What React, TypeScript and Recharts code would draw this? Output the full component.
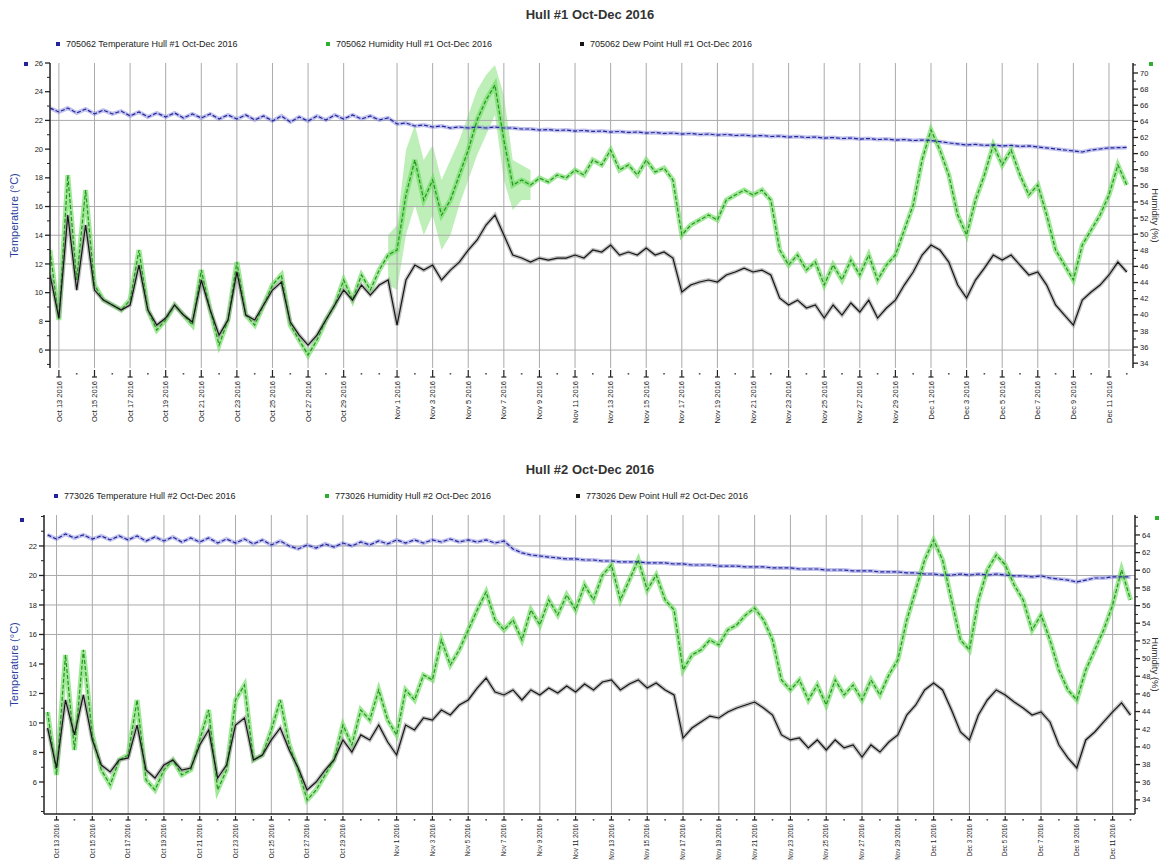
import React from 'react';
import { ComposedChart, Line, Area, XAxis, YAxis, ReferenceLine } from 'recharts';

// readings every 12 h, day 1 = Oct 1 2016 (12.5 = Oct 12 noon)
const firstDay = 12.5;
const stepDays = 0.5;

const tickDays = [13, 15, 17, 19, 21, 23, 25, 27, 29, 32, 34, 36, 38, 40, 42, 44, 46, 48, 50, 52, 54, 56, 58, 60, 62, 64, 66, 68, 70, 72];
const tickLabels = [
  'Oct 13 2016', 'Oct 15 2016', 'Oct 17 2016', 'Oct 19 2016', 'Oct 21 2016', 'Oct 23 2016', 'Oct 25 2016', 'Oct 27 2016', 'Oct 29 2016',
  'Nov 1 2016', 'Nov 3 2016', 'Nov 5 2016', 'Nov 7 2016', 'Nov 9 2016', 'Nov 11 2016', 'Nov 13 2016', 'Nov 15 2016', 'Nov 17 2016',
  'Nov 19 2016', 'Nov 21 2016', 'Nov 23 2016', 'Nov 25 2016', 'Nov 27 2016', 'Nov 29 2016',
  'Dec 1 2016', 'Dec 3 2016', 'Dec 5 2016', 'Dec 7 2016', 'Dec 9 2016', 'Dec 11 2016',
];

const hull1Series = ['705062 Temperature Hull #1 Oct-Dec 2016', '705062 Humidity Hull #1 Oct-Dec 2016', '705062 Dew Point Hull #1 Oct-Dec 2016'];
const hull2Series = ['773026 Temperature Hull #2 Oct-Dec 2016', '773026 Humidity Hull #2 Oct-Dec 2016', '773026 Dew Point Hull #2 Oct-Dec 2016'];

// Hull #1
const temp1 = [
  22.86, 22.59, 22.86, 22.52, 22.79, 22.45, 22.72, 22.45, 22.65, 22.31,
  22.59, 22.24, 22.52, 22.24, 22.52, 22.17, 22.45, 22.17, 22.45, 22.10,
  22.38, 22.10, 22.38, 22.03, 22.31, 21.96, 22.31, 21.89, 22.24, 21.96,
  22.31, 22.03, 22.38, 22.10, 22.38, 22.10, 22.31, 22.03, 22.17, 21.75,
  21.82, 21.61, 21.68, 21.54, 21.61, 21.47, 21.54, 21.47, 21.54, 21.47,
  21.54, 21.47, 21.47, 21.40, 21.40, 21.33, 21.36, 21.30, 21.33, 21.26,
  21.30, 21.23, 21.26, 21.19, 21.23, 21.16, 21.19, 21.12, 21.16, 21.09,
  21.12, 21.05, 21.09, 21.02, 21.05, 20.98, 21.02, 20.95, 20.98, 20.91,
  20.95, 20.88, 20.91, 20.84, 20.88, 20.81, 20.84, 20.77, 20.81, 20.74,
  20.77, 20.70, 20.74, 20.67, 20.70, 20.63, 20.67, 20.60, 20.63, 20.60,
  20.52, 20.43, 20.36, 20.29, 20.33, 20.26, 20.29, 20.22, 20.26, 20.19,
  20.22, 20.15, 20.08, 20.01, 19.94, 19.87, 19.80, 19.94, 20.01, 20.08,
  20.10, 20.12,
];
const hum1 = [
  48.04, 39.35, 57.34, 44.32, 55.48, 43.70, 41.84, 41.22, 40.60, 41.84,
  48.04, 40.60, 38.11, 39.36, 41.22, 39.98, 38.73, 45.56, 40.60, 36.25,
  39.36, 46.55, 39.98, 38.73, 41.22, 43.70, 44.94, 38.73, 36.87, 35.01,
  36.87, 39.36, 41.22, 44.32, 41.84, 44.94, 43.08, 45.56, 47.42, 48.04,
  54.86, 59.21, 54.24, 56.72, 52.38, 54.24, 57.34, 60.45, 64.17, 66.65,
  68.51, 61.69, 56.10, 56.72, 56.10, 56.97, 56.48, 57.34, 56.97, 57.97,
  57.34, 59.21, 58.59, 60.45, 57.97, 58.59, 57.34, 59.21, 57.72, 58.21,
  56.72, 49.90, 51.14, 51.76, 52.38, 51.76, 54.24, 54.86, 55.48, 54.86,
  55.48, 54.24, 48.04, 46.18, 47.42, 45.56, 46.55, 43.70, 46.18, 44.32,
  46.80, 44.94, 47.42, 44.32, 46.18, 47.42, 50.52, 53.62, 59.21, 62.93,
  60.45, 57.34, 52.38, 49.90, 54.24, 57.34, 61.07, 58.59, 60.45, 57.34,
  54.86, 56.10, 52.38, 48.04, 46.18, 44.32, 48.66, 50.52, 52.38, 54.86,
  58.59, 56.10,
];
const dew1 = [
  11.23, 8.23, 15.41, 10.18, 14.71, 10.18, 9.48, 9.14, 8.79, 9.14,
  11.92, 8.79, 7.74, 8.23, 9.14, 8.44, 7.95, 10.88, 8.79, 7.04,
  8.09, 11.44, 8.44, 8.09, 9.14, 10.18, 10.74, 7.95, 7.04, 6.35,
  7.04, 8.09, 9.14, 10.18, 9.48, 10.53, 9.83, 10.53, 10.88, 7.74,
  10.88, 11.92, 11.57, 11.92, 10.88, 11.57, 12.13, 12.97, 13.67, 14.71,
  15.41, 14.01, 12.62, 12.41, 12.13, 12.41, 12.27, 12.41, 12.41, 12.62,
  12.41, 12.97, 12.83, 13.32, 12.62, 12.83, 12.62, 13.11, 12.62, 12.83,
  12.41, 10.04, 10.53, 10.74, 10.88, 10.74, 11.23, 11.44, 11.71, 11.44,
  11.57, 11.23, 9.62, 9.14, 9.48, 8.93, 9.14, 8.23, 9.14, 8.44,
  9.28, 8.65, 9.48, 8.23, 8.93, 9.48, 10.53, 11.44, 12.62, 13.32,
  12.97, 12.13, 10.53, 9.62, 10.88, 11.71, 12.62, 12.27, 12.62, 11.92,
  11.23, 11.44, 10.53, 9.14, 8.44, 7.74, 9.48, 10.04, 10.53, 11.23,
  12.13, 11.44,
];
// spread of the humidity readings early November (from Oct 31 noon)
const hum1BandFirstDay = 31.5;
const hum1BandLow = [43.70, 43.08, 49.90, 53.62, 49.90, 52.38, 48.04, 49.90, 53.62, 56.72, 59.83, 62.31, 64.79, 56.72, 53.00, 54.24, 54.24];
const hum1BandHigh = [49.90, 51.14, 60.45, 63.55, 59.21, 61.07, 56.72, 59.21, 61.69, 64.79, 67.89, 69.75, 70.99, 67.27, 59.21, 58.59, 57.97];

// Hull #2
const temp2 = [
  22.75, 22.47, 22.81, 22.54, 22.75, 22.47, 22.68, 22.41, 22.68, 22.41,
  22.68, 22.34, 22.61, 22.34, 22.61, 22.27, 22.54, 22.27, 22.54, 22.20,
  22.47, 22.20, 22.47, 22.14, 22.41, 22.07, 22.34, 22.00, 21.80, 22.07,
  21.86, 22.14, 21.93, 22.20, 22.00, 22.27, 22.07, 22.34, 22.14, 22.41,
  22.20, 22.41, 22.20, 22.41, 22.27, 22.47, 22.27, 22.41, 22.27, 22.41,
  22.20, 22.34, 21.80, 21.53, 21.39, 21.32, 21.25, 21.19, 21.12, 21.12,
  21.05, 21.05, 20.98, 20.98, 20.92, 20.92, 20.92, 20.85, 20.85, 20.85,
  20.78, 20.78, 20.71, 20.71, 20.71, 20.64, 20.64, 20.64, 20.58, 20.58,
  20.58, 20.51, 20.51, 20.51, 20.44, 20.44, 20.44, 20.37, 20.37, 20.37,
  20.31, 20.31, 20.31, 20.24, 20.24, 20.24, 20.17, 20.17, 20.10, 20.10,
  20.03, 20.03, 20.10, 20.03, 20.10, 20.03, 20.10, 20.03, 19.97, 19.97,
  19.90, 19.97, 19.83, 19.76, 19.69, 19.56, 19.69, 19.83, 19.83, 19.90,
  19.90, 19.90,
];
const hum2 = [
  43.95, 36.82, 50.41, 39.65, 50.98, 41.35, 37.39, 35.69, 38.52, 39.08,
  45.31, 36.25, 35.12, 37.39, 38.52, 36.82, 37.39, 40.78, 44.18, 35.12,
  37.39, 45.31, 47.01, 38.52, 39.08, 41.92, 45.31, 40.22, 37.39, 33.99,
  35.12, 36.82, 38.52, 42.48, 40.22, 44.18, 43.05, 46.45, 43.05, 41.35,
  46.45, 45.31, 48.14, 47.58, 52.11, 49.28, 50.98, 53.24, 55.51, 57.54,
  54.37, 53.24, 54.37, 52.11, 55.51, 53.81, 56.64, 54.94, 57.20, 55.51,
  58.34, 56.64, 59.47, 60.60, 56.64, 58.90, 61.17, 57.77, 59.47, 56.64,
  55.51, 48.71, 50.41, 50.98, 52.11, 51.54, 53.24, 53.81, 54.94, 55.73,
  54.37, 52.11, 47.58, 46.45, 47.58, 45.31, 47.01, 44.75, 47.58, 45.88,
  47.01, 45.31, 47.58, 45.88, 48.14, 49.84, 54.37, 57.77, 61.17, 63.43,
  61.17, 56.64, 52.11, 50.98, 56.64, 60.04, 61.74, 60.60, 58.34, 56.64,
  53.24, 54.94, 52.11, 48.71, 46.45, 45.31, 48.71, 50.98, 53.24, 56.07,
  60.04, 56.64,
];
const dew2 = [
  9.66, 6.95, 11.56, 9.19, 11.90, 8.85, 7.15, 6.68, 7.49, 7.63,
  9.86, 6.81, 6.27, 7.15, 7.49, 6.81, 6.95, 8.51, 9.53, 6.27,
  7.15, 9.86, 10.34, 7.49, 7.83, 8.85, 9.66, 8.17, 6.95, 5.46,
  6.00, 6.81, 7.49, 8.85, 8.03, 9.19, 8.85, 9.86, 8.71, 7.83,
  9.86, 9.53, 10.34, 10.20, 10.88, 10.54, 11.22, 11.56, 12.37, 13.05,
  12.10, 11.90, 12.24, 11.56, 12.24, 11.90, 12.37, 12.03, 12.51, 12.10,
  12.64, 12.24, 12.78, 12.92, 12.24, 12.64, 12.92, 12.37, 12.71, 12.24,
  11.90, 8.98, 9.66, 10.07, 10.47, 10.34, 10.75, 11.02, 11.22, 11.42,
  11.02, 10.54, 9.19, 8.85, 8.98, 8.31, 8.85, 8.17, 8.85, 8.31,
  8.51, 7.69, 8.51, 8.03, 8.71, 9.19, 10.54, 11.22, 12.24, 12.71,
  12.24, 10.88, 9.39, 8.85, 10.54, 11.56, 12.24, 11.90, 11.42, 11.02,
  10.54, 10.75, 10.07, 8.51, 7.63, 6.95, 8.85, 9.39, 10.07, 10.75,
  11.36, 10.54,
];

const colors = {
  temp: '#22249c',
  tempHalo: '#8587dc',
  hum: '#24961f',
  humHalo: '#6fdc62',
  dew: '#151515',
  dewHalo: '#8c8c8c',
  grid: '#aaaaaa',
  axis: '#222',
};
const legendColors = [colors.temp, '#2fae2f', colors.dew];
const FONT = '"Liberation Sans", Arial, sans-serif';

type Row = { day: number; temp: number; hum: number; dew: number; band?: [number, number] };

function buildRows(temp: number[], hum: number[], dew: number[], bandFirst?: number, bandLow?: number[], bandHigh?: number[]): Row[] {
  return temp.map((t, i) => {
    const day = firstDay + i * stepDays;
    const row: Row = { day, temp: t, hum: hum[i], dew: dew[i] };
    if (bandFirst !== undefined && bandLow && bandHigh) {
      const j = Math.round((day - bandFirst) / stepDays);
      if (j >= 0 && j < bandLow.length) row.band = [bandLow[j], bandHigh[j]];
    }
    return row;
  });
}

const range = (a: number, b: number) => Array.from({ length: b - a + 1 }, (_, i) => a + i);
const dayTicks = range(13, 73);

const DayTick = (props: any) => {
  const { x, y, payload, fontSize, gap } = props;
  const idx = tickDays.indexOf(payload.value);
  if (idx < 0) {
    return <rect x={x - 0.8} y={y + 5} width={1.6} height={1.6} fill="#555" />;
  }
  return (
    <g>
      <line x1={x} x2={x} y1={y + 2} y2={y + gap - 4} stroke={colors.axis} strokeWidth={1.2} />
      <line x1={x - 2.5} x2={x + 2.5} y1={y + gap - 4} y2={y + gap - 4} stroke={colors.axis} strokeWidth={1.2} />
      <text
        transform={`translate(${x + fontSize * 0.35},${y + gap}) rotate(-90)`}
        textAnchor="end"
        fontSize={fontSize}
        fontFamily={FONT}
        fill="#222"
      >
        {tickLabels[idx]}
      </text>
    </g>
  );
};

const ValueTick = (props: any) => {
  const { x, y, payload, side, labels } = props;
  const major = labels.includes(payload.value);
  const dir = side === 'left' ? -1 : 1;
  return (
    <g>
      <line x1={x} x2={x + dir * (major ? 5 : 3)} y1={y} y2={y} stroke={colors.axis} strokeWidth={major ? 1.3 : 1} />
      {major && (
        <text
          x={x + dir * 7}
          y={y}
          dy={2.6}
          textAnchor={side === 'left' ? 'end' : 'start'}
          fontSize={7.5}
          fontFamily={FONT}
          fill="#222"
        >
          {payload.value}
        </text>
      )}
    </g>
  );
};

interface HullChartProps {
  title: string;
  series: string[];
  rows: Row[];
  top: number;
  height: number;
  plotTop: number;
  xAxisHeight: number;
  leftWidth: number;
  rightWidth: number;
  xDomain: [number, number];
  tempDomain: [number, number];
  humDomain: [number, number];
  tempTicks: number[];
  tempLabels: number[];
  humTicks: number[];
  humLabels: number[];
  tempGrid: number[];
  showXAxisLine: boolean;
  dayFont: number;
  dayGap: number;
  titleTop: number;
  legendTop: number;
  legendLeft: number[];
  tempMarker: [number, number];
  humMarker: [number, number];
}

function HullChart(p: HullChartProps) {
  return (
    <div style={{ position: 'absolute', left: 0, top: p.top, width: 1160, height: p.height }}>
      <div
        style={{
          position: 'absolute', left: 0, top: p.titleTop, width: 1180, textAlign: 'center',
          fontFamily: FONT, fontWeight: 'bold', fontSize: 13, color: '#333',
        }}
      >
        {p.title}
      </div>
      {p.series.map((name, i) => (
        <div
          key={name}
          style={{
            position: 'absolute', left: p.legendLeft[i], top: p.legendTop, display: 'flex', alignItems: 'center',
            fontFamily: FONT, fontSize: 9, color: '#222', whiteSpace: 'nowrap',
          }}
        >
          <span style={{ display: 'inline-block', width: 4, height: 4, background: legendColors[i], marginRight: 6 }} />
          {name}
        </div>
      ))}
      <div style={{ position: 'absolute', left: 0, top: 0 }}>
        <ComposedChart
          width={1160}
          height={p.height}
          data={p.rows}
          margin={{ top: p.plotTop, right: 0, bottom: 0, left: 0 }}
        >
          <XAxis
            dataKey="day"
            type="number"
            domain={p.xDomain}
            allowDataOverflow
            ticks={dayTicks}
            interval={0}
            height={p.xAxisHeight}
            tickSize={0}
            tickMargin={0}
            tickLine={false}
            axisLine={p.showXAxisLine ? { stroke: colors.axis, strokeWidth: 1.5 } : false}
            tick={(t: any) => <DayTick {...t} fontSize={p.dayFont} gap={p.dayGap} />}
          />
          <YAxis
            yAxisId="left"
            type="number"
            domain={p.tempDomain}
            allowDataOverflow
            ticks={p.tempTicks}
            interval={0}
            width={p.leftWidth}
            tickSize={0}
            tickMargin={0}
            tickLine={false}
            axisLine={{ stroke: colors.axis, strokeWidth: 1.5 }}
            tick={(t: any) => <ValueTick {...t} side="left" labels={p.tempLabels} />}
            label={{
              value: 'Temperature (°C)', angle: -90, position: 'insideLeft', offset: 14,
              style: { textAnchor: 'middle', fill: '#2b3f9e', fontSize: 11, fontFamily: FONT },
            }}
          />
          <YAxis
            yAxisId="right"
            orientation="right"
            type="number"
            domain={p.humDomain}
            allowDataOverflow
            ticks={p.humTicks}
            interval={0}
            width={p.rightWidth}
            tickSize={0}
            tickMargin={0}
            tickLine={false}
            axisLine={{ stroke: colors.axis, strokeWidth: 1.5 }}
            tick={(t: any) => <ValueTick {...t} side="right" labels={p.humLabels} />}
            label={{
              value: 'Humidity (%)', angle: 90, position: 'insideRight', offset: 5,
              style: { textAnchor: 'middle', fill: '#333', fontSize: 9.5, fontFamily: FONT },
            }}
          />

          {tickDays.map((d) => (
            <ReferenceLine key={`v${d}`} x={d} yAxisId="left" stroke={colors.grid} strokeWidth={1} />
          ))}
          {p.tempGrid.map((v) => (
            <ReferenceLine key={`h${v}`} y={v} yAxisId="left" stroke={colors.grid} strokeWidth={1} />
          ))}

          <Area
            yAxisId="right"
            dataKey="band"
            type="linear"
            stroke="none"
            fill={colors.humHalo}
            fillOpacity={0.45}
            isAnimationActive={false}
            activeDot={false}
          />
          <Line yAxisId="left" dataKey="temp" type="linear" stroke={colors.tempHalo} strokeWidth={4} strokeOpacity={0.5} dot={false} activeDot={false} isAnimationActive={false} />
          <Line yAxisId="right" dataKey="hum" type="linear" stroke={colors.humHalo} strokeWidth={5} strokeOpacity={0.65} dot={false} activeDot={false} isAnimationActive={false} />
          <Line yAxisId="left" dataKey="dew" type="linear" stroke={colors.dewHalo} strokeWidth={4} strokeOpacity={0.55} dot={false} activeDot={false} isAnimationActive={false} />
          <Line yAxisId="right" dataKey="hum" type="linear" stroke={colors.hum} strokeWidth={1.2} strokeDasharray="4 2" dot={false} activeDot={false} isAnimationActive={false} />
          <Line yAxisId="left" dataKey="dew" type="linear" stroke={colors.dew} strokeWidth={1.2} dot={false} activeDot={false} isAnimationActive={false} />
          <Line yAxisId="left" dataKey="temp" type="linear" stroke={colors.temp} strokeWidth={1.2} strokeDasharray="4 2" dot={false} activeDot={false} isAnimationActive={false} />
        </ComposedChart>
      </div>
      <span style={{ position: 'absolute', left: p.tempMarker[0], top: p.tempMarker[1], width: 4, height: 4, background: colors.temp }} />
      <span style={{ position: 'absolute', left: p.humMarker[0], top: p.humMarker[1], width: 4, height: 4, background: '#2fae2f' }} />
    </div>
  );
}

const rows1 = buildRows(temp1, hum1, dew1, hum1BandFirstDay, hum1BandLow, hum1BandHigh);
const rows2 = buildRows(temp2, hum2, dew2);

const evens = (a: number, b: number) => range(a, b).filter((v) => v % 2 === 0);

export default function App() {
  return (
    <div style={{ position: 'absolute', left: 0, top: 0, width: 1160, height: 862, background: '#fff', overflow: 'hidden' }}>
      <HullChart
        title="Hull #1 Oct-Dec 2016"
        series={hull1Series}
        rows={rows1}
        top={0}
        height={440}
        plotTop={63}
        xAxisHeight={72}
        leftWidth={50}
        rightWidth={27}
        xDomain={[12.5, 73.35]}
        tempDomain={[4.75, 26]}
        humDomain={[33.4, 71.24]}
        tempTicks={range(5, 26)}
        tempLabels={evens(6, 26)}
        humTicks={range(34, 71)}
        humLabels={evens(34, 70)}
        tempGrid={[22, 16, 14, 12, 6]}
        showXAxisLine={false}
        dayFont={7.5}
        dayGap={13}
        titleTop={7}
        legendTop={39}
        legendLeft={[56, 326, 580]}
        tempMarker={[24, 62]}
        humMarker={[1149, 62]}
      />
      <HullChart
        title="Hull #2 Oct-Dec 2016"
        series={hull2Series}
        rows={rows2}
        top={450}
        height={412}
        plotTop={65}
        xAxisHeight={48}
        leftWidth={44}
        rightWidth={25}
        xDomain={[12.3, 73.25]}
        tempDomain={[3.83, 24.1]}
        humDomain={[32.4, 66.26]}
        tempTicks={range(4, 24)}
        tempLabels={evens(6, 22)}
        humTicks={range(33, 66)}
        humLabels={evens(34, 64)}
        tempGrid={[22, 20, 18, 16]}
        showXAxisLine={true}
        dayFont={6.3}
        dayGap={10}
        titleTop={12}
        legendTop={41}
        legendLeft={[54, 325, 576]}
        tempMarker={[20, 68]}
        humMarker={[1155, 66]}
      />
    </div>
  );
}
